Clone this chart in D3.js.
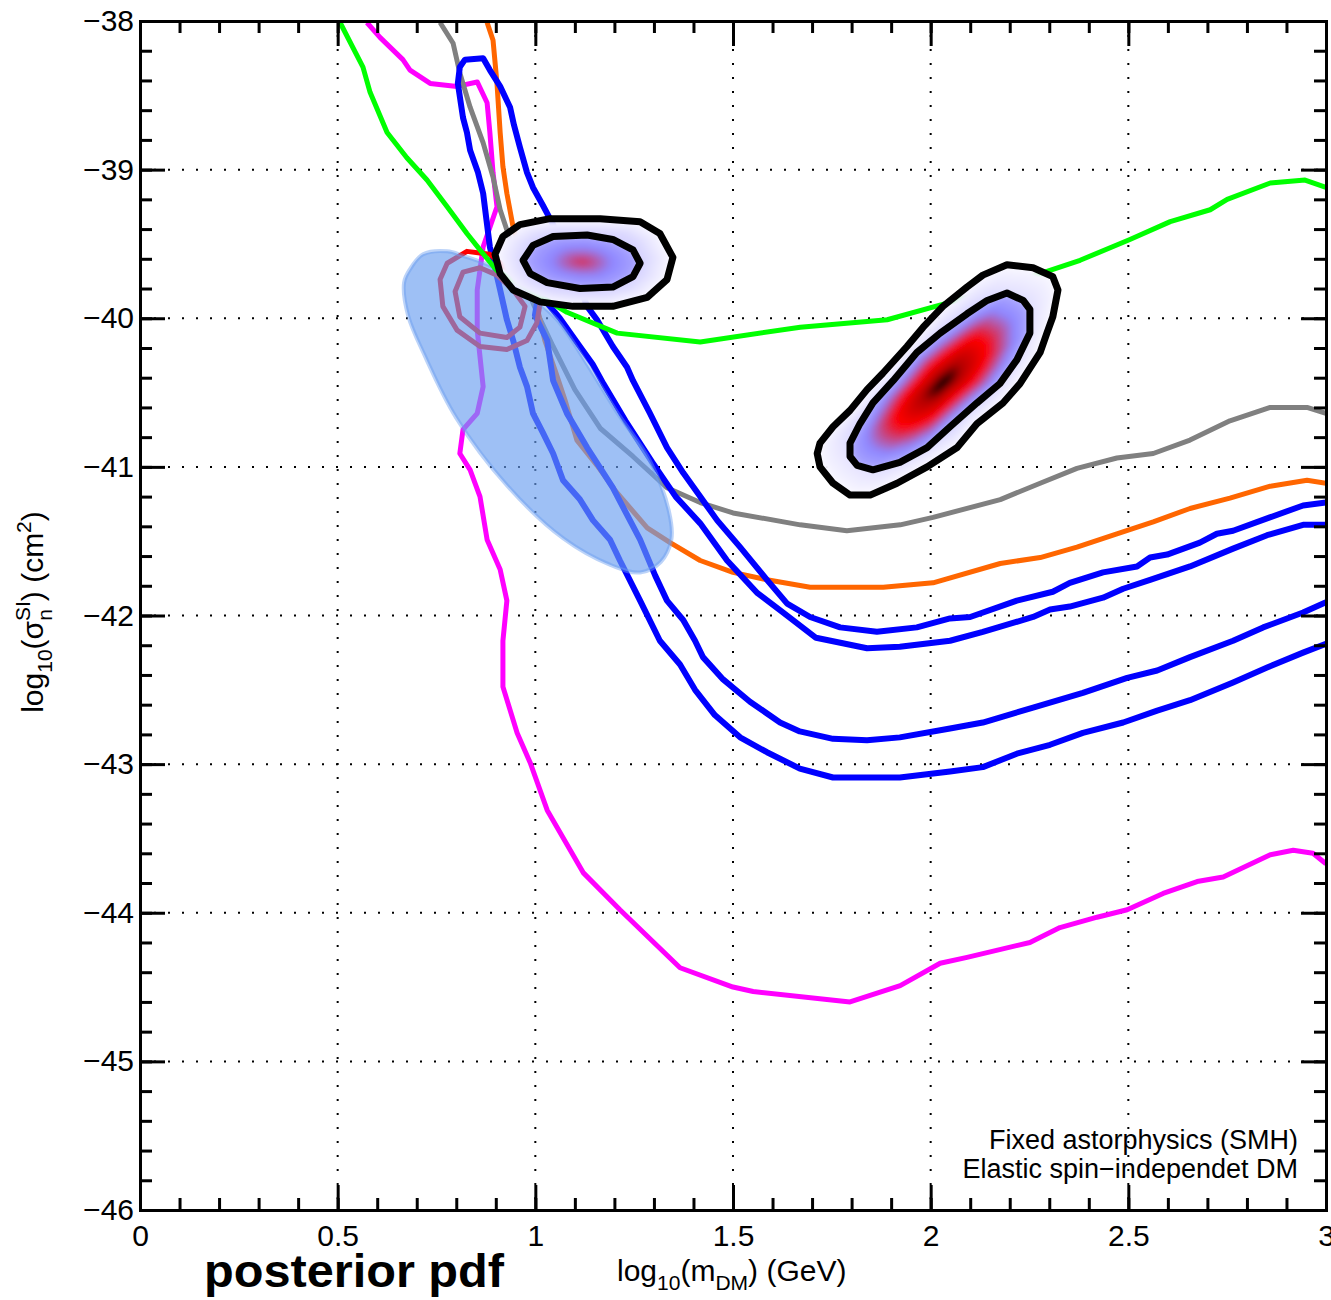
<!DOCTYPE html>
<html>
<head>
<meta charset="utf-8">
<script src="https://cdn.jsdelivr.net/npm/d3@7"></script>
<style>
  body { margin: 0; background: #fff; }
  text { font-family: "Liberation Sans", Arial, Helvetica, sans-serif; fill: #000; }
  .axis path, .axis line { stroke: #000; stroke-width: 3; }
  .grid { stroke: #000; stroke-width: 2; stroke-dasharray: 2 12; }
  .curve { fill: none; stroke-linejoin: round; stroke-linecap: butt; }
</style>
</head>
<body>
<div id="chart0"></div>
<script>
// --------------------------------------
//  Data (log10 mass in GeV, log10 cross-section in cm^2)
// --------------------------------------

const xTickValues = [0, 0.5, 1, 1.5, 2, 2.5, 3];
const yTickValues = [-46, -45, -44, -43, -42, -41, -40, -39, -38];

const greenCurve = [[0.506,-38.01],[0.564,-38.31],[0.582,-38.48],[0.625,-38.75],[0.675,-38.92],[0.726,-39.07],
  [0.777,-39.25],[0.827,-39.43],[0.860,-39.54],[0.903,-39.68],[0.987,-39.81],[1.080,-39.96],[1.207,-40.10],
  [1.417,-40.16],[1.670,-40.06],[1.890,-40.01],[2.067,-39.88],[2.176,-39.79],[2.277,-39.70],[2.378,-39.61],
  [2.504,-39.47],[2.606,-39.35],[2.707,-39.27],[2.750,-39.20],[2.859,-39.09],[2.947,-39.07],[3.0,-39.12]];

const magentaCurve = [[0.574,-38.01],[0.607,-38.11],[0.665,-38.26],[0.683,-38.33],[0.734,-38.42],[0.802,-38.44],
  [0.853,-38.41],[0.878,-38.55],[0.885,-38.75],[0.893,-39.02],[0.903,-39.25],[0.868,-39.52],[0.853,-39.81],
  [0.853,-40.08],[0.868,-40.46],[0.853,-40.64],[0.817,-40.75],[0.809,-40.91],[0.835,-41.02],[0.860,-41.20],
  [0.878,-41.49],[0.911,-41.69],[0.928,-41.90],[0.918,-42.17],[0.918,-42.48],[0.954,-42.79],[0.987,-42.99],
  [1.030,-43.31],[1.121,-43.73],[1.214,-43.98],[1.366,-44.37],[1.500,-44.50],[1.551,-44.53],[1.796,-44.60],
  [1.923,-44.49],[2.024,-44.34],[2.092,-44.30],[2.251,-44.20],[2.327,-44.10],[2.421,-44.03],[2.497,-43.98],
  [2.588,-43.87],[2.674,-43.79],[2.740,-43.76],[2.859,-43.61],[2.917,-43.58],[2.967,-43.60],[3.0,-43.67]];

const greyCurve = [[0.759,-38.01],[0.792,-38.15],[0.809,-38.35],[0.835,-38.58],[0.868,-38.82],[0.893,-39.05],
  [0.911,-39.27],[0.936,-39.47],[0.969,-39.74],[1.004,-39.96],[1.045,-40.19],[1.100,-40.48],[1.164,-40.74],
  [1.247,-40.93],[1.333,-41.14],[1.417,-41.24],[1.500,-41.31],[1.670,-41.39],[1.788,-41.43],[1.923,-41.39],
  [2.006,-41.34],[2.176,-41.22],[2.277,-41.11],[2.370,-41.01],[2.471,-40.94],[2.563,-40.91],[2.656,-40.82],
  [2.757,-40.69],[2.859,-40.60],[2.952,-40.60],[3.0,-40.64]];

const orangeCurve = [[0.878,-38.01],[0.893,-38.13],[0.903,-38.42],[0.911,-38.75],[0.918,-38.98],[0.928,-39.16],
  [0.944,-39.39],[0.961,-39.54],[0.987,-39.74],[1.004,-39.92],[1.024,-40.15],[1.050,-40.35],[1.075,-40.55],
  [1.105,-40.82],[1.156,-40.99],[1.202,-41.16],[1.283,-41.41],[1.341,-41.51],[1.417,-41.63],[1.500,-41.71],
  [1.586,-41.76],[1.695,-41.81],[1.880,-41.81],[2.006,-41.78],[2.176,-41.65],[2.277,-41.61],[2.370,-41.54],
  [2.471,-41.45],[2.563,-41.37],[2.656,-41.28],[2.757,-41.21],[2.859,-41.13],[2.952,-41.09],[3.0,-41.11]];

// outer blue contour: lower branch from right edge, over the top, back along the upper branch
const blueOuter = [[3.0,-42.19],[2.942,-42.25],[2.851,-42.35],[2.765,-42.45],[2.656,-42.57],[2.573,-42.64],
  [2.487,-42.72],[2.385,-42.79],[2.302,-42.87],[2.218,-42.93],[2.132,-43.02],[2.049,-43.05],[1.922,-43.09],
  [1.753,-43.09],[1.669,-43.03],[1.586,-42.92],[1.518,-42.82],[1.454,-42.67],[1.404,-42.50],[1.366,-42.33],
  [1.315,-42.17],[1.265,-41.90],[1.214,-41.63],[1.189,-41.49],[1.146,-41.36],[1.113,-41.22],[1.070,-41.09],
  [1.045,-40.91],[1.019,-40.77],[0.994,-40.64],[0.979,-40.46],[0.961,-40.33],[0.944,-40.15],[0.928,-40.01],
  [0.911,-39.81],[0.898,-39.66],[0.885,-39.52],[0.875,-39.31],[0.868,-39.16],[0.855,-39.02],[0.835,-38.87],
  [0.827,-38.75],[0.817,-38.65],[0.804,-38.42],[0.809,-38.31],[0.822,-38.26],[0.868,-38.25],[0.885,-38.33],
  [0.911,-38.44],[0.936,-38.58],[0.946,-38.70],[0.961,-38.85],[0.979,-39.02],[0.994,-39.12],[1.019,-39.24],
  [1.045,-39.37],[1.070,-39.54],[1.088,-39.66],[1.113,-39.79],[1.131,-39.92],[1.156,-40.01],[1.196,-40.19],
  [1.232,-40.33],[1.247,-40.42],[1.290,-40.64],[1.333,-40.87],[1.374,-41.04],[1.417,-41.20],[1.460,-41.36],
  [1.518,-41.54],[1.586,-41.76],[1.637,-41.92],[1.695,-42.01],[1.771,-42.08],[1.864,-42.11],
  [1.965,-42.08],[2.049,-42.02],[2.100,-42.01],[2.218,-41.90],[2.309,-41.84],[2.352,-41.78],[2.436,-41.71],
  [2.522,-41.67],[2.555,-41.61],[2.598,-41.59],[2.681,-41.51],[2.724,-41.45],[2.765,-41.43],[2.858,-41.34],
  [2.942,-41.26],[3.0,-41.24]];

const blueInner = [[3.0,-41.91],[2.942,-41.98],[2.841,-42.08],[2.765,-42.17],[2.656,-42.28],[2.573,-42.37],
  [2.497,-42.42],[2.385,-42.52],[2.259,-42.62],[2.132,-42.72],[2.049,-42.76],[1.922,-42.82],[1.839,-42.84],
  [1.753,-42.83],[1.669,-42.78],[1.619,-42.72],[1.543,-42.58],[1.475,-42.43],[1.424,-42.28],[1.404,-42.17],
  [1.374,-42.03],[1.333,-41.90],[1.303,-41.73],[1.265,-41.49],[1.196,-41.14],[1.131,-40.87],[1.080,-40.64],
  [1.045,-40.42],[1.030,-40.15],[0.999,-39.98],[1.004,-39.90],[1.024,-39.88],[1.062,-40.00],[1.110,-40.18],
  [1.145,-40.31],[1.172,-40.44],[1.228,-40.69],[1.296,-40.97],[1.355,-41.20],[1.417,-41.38],[1.485,-41.63],
  [1.562,-41.85],[1.627,-41.98],[1.710,-42.15],[1.839,-42.22],[1.922,-42.21],[2.049,-42.17],[2.132,-42.11],
  [2.259,-42.01],[2.302,-41.96],[2.352,-41.94],[2.436,-41.88],[2.487,-41.82],[2.555,-41.76],[2.656,-41.67],
  [2.765,-41.55],[2.851,-41.46],[2.942,-41.39],[3.0,-41.39]];

const redOuter = [[0.827,-39.55],[0.885,-39.57],[0.944,-39.70],[0.987,-39.79],[1.012,-39.90],[1.004,-40.03],
  [0.979,-40.15],[0.928,-40.21],[0.860,-40.19],[0.802,-40.08],[0.766,-39.92],[0.759,-39.74],[0.777,-39.63]];

const redInner = [[0.817,-39.69],[0.860,-39.66],[0.903,-39.71],[0.944,-39.81],[0.974,-39.92],[0.961,-40.06],
  [0.928,-40.13],[0.860,-40.10],[0.809,-39.99],[0.797,-39.82]];

const blobCurve = [[0.683,-39.67],[0.716,-39.57],[0.777,-39.55],[0.817,-39.58],[0.903,-39.67],[0.987,-39.85],
  [1.055,-40.01],[1.136,-40.33],[1.206,-40.63],[1.290,-40.96],[1.338,-41.30],[1.344,-41.49],[1.317,-41.64],
  [1.265,-41.71],[1.190,-41.66],[1.070,-41.48],[0.930,-41.13],[0.800,-40.67],[0.720,-40.25],[0.678,-39.98],
  [0.668,-39.76]];

const pdfAOuter = [[0.898,-39.57],[0.918,-39.45],[0.961,-39.37],[1.037,-39.33],[1.164,-39.33],[1.265,-39.35],
  [1.315,-39.43],[1.348,-39.59],[1.333,-39.74],[1.283,-39.86],[1.196,-39.92],[1.095,-39.92],[1.012,-39.89],
  [0.944,-39.81],[0.911,-39.70]];

const pdfAInner = [[0.969,-39.61],[0.994,-39.51],[1.045,-39.45],[1.131,-39.44],[1.196,-39.47],[1.247,-39.54],
  [1.265,-39.63],[1.247,-39.72],[1.196,-39.79],[1.113,-39.80],[1.030,-39.76],[0.987,-39.70]];

const pdfBOuter = [[1.713,-40.91],[1.720,-41.00],[1.753,-41.11],[1.796,-41.19],[1.847,-41.19],[1.915,-41.11],
  [1.991,-41.00],[2.067,-40.87],[2.117,-40.71],[2.183,-40.57],[2.226,-40.44],[2.277,-40.23],[2.294,-40.10],
  [2.309,-39.99],[2.322,-39.81],[2.309,-39.72],[2.259,-39.66],[2.193,-39.64],[2.132,-39.71],[2.092,-39.79],
  [2.031,-39.92],[1.981,-40.06],[1.940,-40.19],[1.879,-40.37],[1.839,-40.48],[1.796,-40.62],[1.753,-40.73],
  [1.720,-40.84]];

const pdfBInner = [[1.796,-40.93],[1.814,-40.99],[1.854,-41.02],[1.922,-40.97],[1.991,-40.87],[2.049,-40.73],
  [2.117,-40.57],[2.175,-40.44],[2.218,-40.28],[2.251,-40.10],[2.251,-39.94],[2.234,-39.88],[2.193,-39.83],
  [2.143,-39.88],[2.092,-39.97],[2.024,-40.10],[1.965,-40.23],[1.905,-40.42],[1.854,-40.57],[1.821,-40.71],
  [1.796,-40.84]];

const noteLines = ["Fixed astorphysics (SMH)", "Elastic spin\u2212independet DM"];

// --------------------------------------
//  Canvas
// --------------------------------------

const width = 1331, height = 1300;
const margin = {top: 21, right: 5, bottom: 90, left: 140};
const innerwidth = width - margin.left - margin.right;
const innerheight = height - margin.top - margin.bottom;

const svg0 = d3.select("#chart0")
  .append("svg")
    .attr("width", width)
    .attr("height", height)
    .attr("viewBox", [0, 0, width, height]);

const defs = svg0.append("defs");

defs.append("clipPath").attr("id", "plotClip")
  .append("rect").attr("width", innerwidth).attr("height", innerheight);

defs.append("filter").attr("id", "soft")
    .attr("x", "-20%").attr("y", "-20%").attr("width", "140%").attr("height", "140%")
  .append("feGaussianBlur").attr("stdDeviation", 3);

const innerChart0 = svg0
  .append("g")
    .attr("transform", `translate(${margin.left}, ${margin.top})`);

// --------------------------------------
// Scales and generators
// --------------------------------------

const x = d3.scaleLinear().domain([0, 3]).range([0, innerwidth]);
const y = d3.scaleLinear().domain([-46, -38]).range([innerheight, 0]);

const line = d3.line().x(d => x(d[0])).y(d => y(d[1]));
const closedLine = d3.line().curve(d3.curveLinearClosed).x(d => x(d[0])).y(d => y(d[1]));
const smoothClosed = d3.line().curve(d3.curveCatmullRomClosed).x(d => x(d[0])).y(d => y(d[1]));

const density = d3.scaleLinear()
  .domain([0, 0.18, 0.5, 0.8, 1])
  .range(["#aaa6ff", "#8e86ff", "#ff0000", "#b00000", "#000000"])
  .clamp(true);

// --------------------------------------
// Grid
// --------------------------------------

const grid = innerChart0.append("g");

grid.selectAll(".gx")
  .data(xTickValues.filter(d => d > 0 && d < 3))
  .join("line")
    .attr("class", "grid")
    .attr("x1", d => x(d)).attr("x2", d => x(d))
    .attr("y1", 0).attr("y2", innerheight);

grid.selectAll(".gy")
  .data(yTickValues.filter(d => d > -46 && d < -38))
  .join("line")
    .attr("class", "grid")
    .attr("y1", d => y(d)).attr("y2", d => y(d))
    .attr("x1", 0).attr("x2", innerwidth);

// --------------------------------------
// Curves
// --------------------------------------

const plot = innerChart0.append("g").attr("clip-path", "url(#plotClip)");

const drawCurve = (data, color, w, gen = line) => plot.append("path")
  .datum(data)
  .attr("class", "curve")
  .attr("stroke", color)
  .attr("stroke-width", w)
  .attr("d", gen);

drawCurve(magentaCurve, "#ff00ff", 5);
drawCurve(greyCurve, "#808080", 5);
drawCurve(orangeCurve, "#ff6600", 5);
drawCurve(blueOuter, "#0000ff", 6);
drawCurve(blueInner, "#0000ff", 6);
drawCurve(redOuter, "#ff0000", 5, closedLine);
drawCurve(redInner, "#ff0000", 5, closedLine);

// light blue posterior region, laid over the limits
plot.append("path")
  .datum(blobCurve)
  .attr("d", smoothClosed)
  .attr("fill", "#6a9ef0")
  .attr("fill-opacity", 0.65)
  .attr("stroke", "#6a9ef0")
  .attr("stroke-opacity", 0.45)
  .attr("stroke-width", 4);

drawCurve(greenCurve, "#00ff00", 5);

// --------------------------------------
// Posterior pdf modes
// --------------------------------------

function drawPdf(outer, inner, tMax, id) {
  const innerPx = inner.map(d => [x(d[0]), y(d[1])]);
  const outerPx = outer.map(d => [x(d[0]), y(d[1])]);
  const c = d3.polygonCentroid(innerPx);
  const shrink = (pts, k) => pts.map(p => [c[0] + (p[0] - c[0]) * k, c[1] + (p[1] - c[1]) * k]);
  const pathOf = d3.line().curve(d3.curveLinearClosed);

  defs.append("clipPath").attr("id", id + "Out")
    .append("path").attr("d", pathOf(outerPx));
  defs.append("clipPath").attr("id", id + "In")
    .append("path").attr("d", pathOf(innerPx));

  const band = plot.append("g").attr("clip-path", `url(#${id}Out)`)
    .append("g").attr("filter", "url(#soft)");
  const bandColor = d3.interpolateRgb("#f8f7ff", "#d4d0ff");
  d3.range(0, 1, 0.1).forEach(s => {
    band.append("path")
      .attr("d", pathOf(shrink(outerPx, 1 - s * 0.35)))
      .attr("fill", bandColor(s));
  });

  const core = plot.append("g").attr("clip-path", `url(#${id}In)`)
    .append("g").attr("filter", "url(#soft)");
  d3.range(0, 1, 1 / 28).forEach(s => {
    core.append("path")
      .attr("d", pathOf(shrink(innerPx, 1 - s * 0.97)))
      .attr("fill", density(s * tMax));
  });

  [outer, inner].forEach(ring => plot.append("path")
    .datum(ring)
    .attr("d", closedLine)
    .attr("fill", "none")
    .attr("stroke", "#000")
    .attr("stroke-width", 7)
    .attr("stroke-linejoin", "round"));
}

drawPdf(pdfAOuter, pdfAInner, 0.38, "pdfA");
drawPdf(pdfBOuter, pdfBInner, 1.0, "pdfB");

// --------------------------------------
// Axes
// --------------------------------------

const styleAxis = g => {
  g.attr("font-size", null).attr("font-family", null);
  g.selectAll("text").style("font-size", "30px");
};

innerChart0.append("g").attr("class", "axis")
  .attr("transform", `translate(0, ${innerheight})`)
  .call(d3.axisBottom(x).ticks(30).tickFormat("").tickSizeInner(-12).tickSizeOuter(0));
innerChart0.append("g").attr("class", "axis")
  .attr("transform", `translate(0, ${innerheight})`)
  .call(d3.axisBottom(x).tickValues(xTickValues).tickFormat(d3.format("~g"))
    .tickSizeInner(-25).tickSizeOuter(0).tickPadding(15))
  .call(styleAxis);

innerChart0.append("g").attr("class", "axis")
  .call(d3.axisTop(x).ticks(30).tickFormat("").tickSizeInner(-12).tickSizeOuter(0));
innerChart0.append("g").attr("class", "axis")
  .call(d3.axisTop(x).tickValues(xTickValues).tickFormat("").tickSizeInner(-25).tickSizeOuter(0));

innerChart0.append("g").attr("class", "axis")
  .call(d3.axisLeft(y).ticks(40).tickFormat("").tickSizeInner(-12).tickSizeOuter(0));
innerChart0.append("g").attr("class", "axis")
  .call(d3.axisLeft(y).tickValues(yTickValues).tickFormat(d3.format("d"))
    .tickSizeInner(-25).tickSizeOuter(0).tickPadding(6))
  .call(styleAxis);

innerChart0.append("g").attr("class", "axis")
  .attr("transform", `translate(${innerwidth}, 0)`)
  .call(d3.axisRight(y).ticks(40).tickFormat("").tickSizeInner(-12).tickSizeOuter(0));
innerChart0.append("g").attr("class", "axis")
  .attr("transform", `translate(${innerwidth}, 0)`)
  .call(d3.axisRight(y).tickValues(yTickValues).tickFormat("").tickSizeInner(-25).tickSizeOuter(0));

innerChart0.selectAll(".axis path").attr("stroke-linecap", "square");

// --------------------------------------
// Labels
// --------------------------------------

const xTitle = svg0.append("text")
  .attr("x", 617).attr("y", 1281)
  .style("font-size", "30px");
xTitle.append("tspan").text("log");
xTitle.append("tspan").text("10").attr("dy", 9).style("font-size", "21px");
xTitle.append("tspan").text("(m").attr("dy", -9);
xTitle.append("tspan").text("DM").attr("dy", 9).style("font-size", "21px");
xTitle.append("tspan").text(") (GeV)").attr("dy", -9);

const yTitle = svg0.append("text")
  .attr("transform", "translate(43, 612) rotate(-90)")
  .attr("text-anchor", "middle")
  .style("font-size", "30px");
yTitle.append("tspan").text("log");
yTitle.append("tspan").text("10").attr("dy", 9).style("font-size", "21px");
yTitle.append("tspan").text("(\u03c3").attr("dy", -9);
yTitle.append("tspan").text("SI").attr("dy", -13).style("font-size", "21px");
yTitle.append("tspan").text("n").attr("dx", -19.8).attr("dy", 22).style("font-size", "21px");
yTitle.append("tspan").text(") (cm").attr("dx", 8).attr("dy", -9);
yTitle.append("tspan").text("2").attr("dy", -12).style("font-size", "21px");
yTitle.append("tspan").text(")").attr("dy", 12);

svg0.append("text")
  .attr("x", 204).attr("y", 1287)
  .style("font-size", "47px")
  .style("font-weight", "bold")
  .attr("textLength", 300)
  .attr("lengthAdjust", "spacingAndGlyphs")
  .text("posterior pdf");

svg0.selectAll(".note")
  .data(noteLines)
  .join("text")
    .attr("x", 1298)
    .attr("y", (d, i) => 1149 + i * 29)
    .attr("text-anchor", "end")
    .style("font-size", "27px")
    .text(d => d);
</script>
</body>
</html>
